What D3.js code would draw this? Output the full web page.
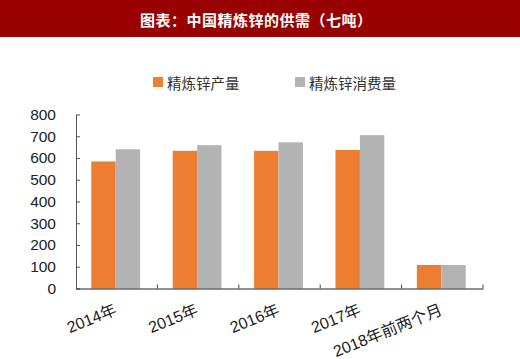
<!DOCTYPE html>
<html><head><meta charset="utf-8">
<script src="https://cdn.jsdelivr.net/npm/d3@7"></script>
<style>
html,body{margin:0;padding:0;background:#fff;}
svg{display:block;}
</style></head>
<body>
<svg id="c" width="520" height="359"></svg>
<script>
const categories = ["2014年","2015年","2016年","2017年","2018年前两个月"];
const seriesNames = ["精炼锌产量","精炼锌消费量"];
const production = [584, 633, 633, 637, 108];
const consumption = [640, 659, 672, 705, 108];
const yTicks = [0,100,200,300,400,500,600,700,800];
const colors = ["#ED7D31","#B3B3B3"];
const title = "图表：中国精炼锌的供需（七吨）";

const svg = d3.select("#c");
const cjk = "'Noto Sans CJK SC','Noto Sans',sans-serif";
const latin = "'Liberation Sans',Arial,'Noto Sans CJK SC',sans-serif";

// header
svg.append("rect").attr("x",0).attr("y",0).attr("width",520).attr("height",37).attr("fill","#990000");
svg.append("text").attr("x",140).attr("y",19).attr("dominant-baseline","central")
  .attr("fill","#fff").attr("font-family",cjk).attr("font-weight","bold").attr("font-size",15)
  .attr("textLength",232).attr("lengthAdjust","spacing").text(title);

const x = d3.scaleBand().domain(categories).range([76,483]).paddingInner(0).paddingOuter(0);
const xs = d3.scaleBand().domain([0,1]).range([0,x.bandwidth()]).paddingInner(0).paddingOuter(0.667);
const y = d3.scaleLinear().domain([0,800]).range([288.5,114.5]);

const data = categories.map((c,i)=>({c, v:[production[i],consumption[i]]}));
const g = svg.append("g");
data.forEach(d=>{
  d.v.forEach((v,j)=>{
    g.append("rect").attr("x",x(d.c)+xs(j)-1).attr("y",y(v)).attr("width",xs.bandwidth())
     .attr("height",y(0)-y(v)).attr("fill",colors[j]);
  });
});

// y axis
const ya = svg.append("g").attr("transform","translate(76,0)")
  .call(d3.axisLeft(y).tickValues(yTicks).tickSizeInner(-4).tickSizeOuter(0).tickPadding(20));
ya.select(".domain").attr("stroke","#555");
ya.selectAll(".tick line").attr("stroke","#555");
ya.selectAll("text").attr("font-family",latin).attr("font-size",15.5).attr("fill","#222");

// x axis
const xa = svg.append("g").attr("transform","translate(0,288.5)")
  .call(d3.axisBottom(x).tickSize(0).tickSizeOuter(0).tickFormat(""));
xa.select(".domain").attr("stroke","#222");
categories.forEach(c=>{
  const bx = x(c)+x.bandwidth();
  svg.append("line").attr("x1",bx).attr("x2",bx).attr("y1",284.5).attr("y2",288.5).attr("stroke","#444");
});
categories.forEach(c=>{
  const cx = x(c)+x.bandwidth()/2+1;
  svg.append("text").attr("transform",`translate(${cx},${314}) rotate(-22)`)
    .attr("text-anchor","end").attr("font-family",latin).attr("font-size",16).attr("fill","#222").text(c);
});

// legend
const lx = [153,295];
seriesNames.forEach((s,i)=>{
  svg.append("rect").attr("x",lx[i]).attr("y",77).attr("width",10).attr("height",10).attr("fill",colors[i]);
  svg.append("text").attr("x",lx[i]+14).attr("y",82.5).attr("dominant-baseline","central")
    .attr("font-family",cjk).attr("font-size",14.5).attr("fill","#333").text(s);
});
</script>
</body></html>
